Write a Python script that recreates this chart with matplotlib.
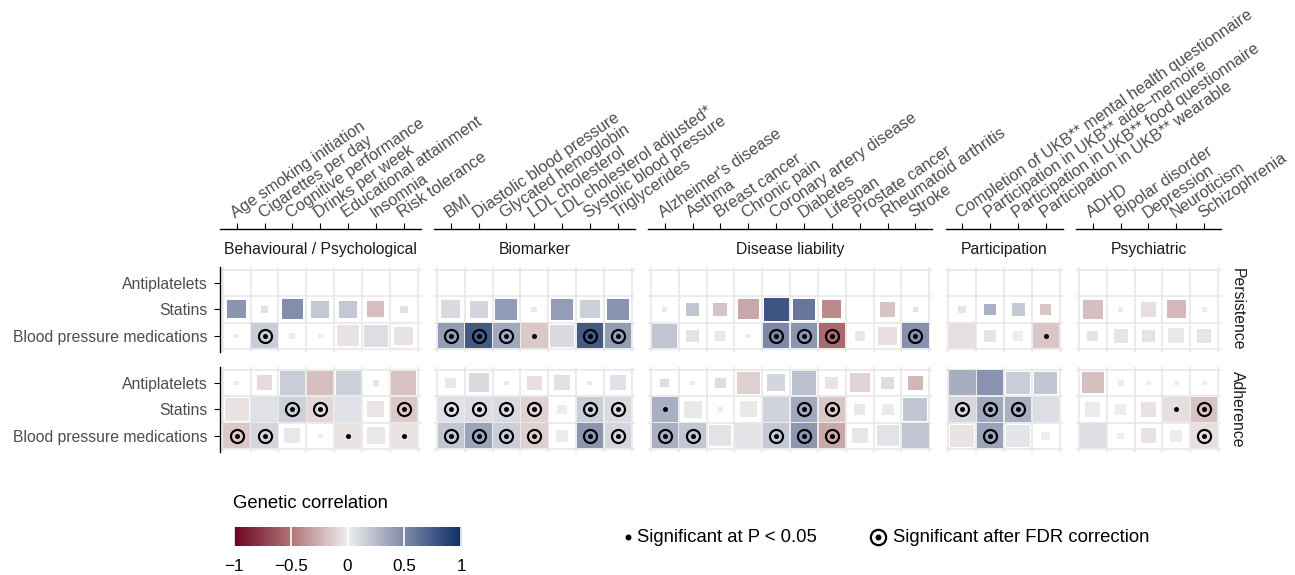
import numpy as np
import matplotlib
matplotlib.use('Agg')
import matplotlib.pyplot as plt
from matplotlib.colors import LinearSegmentedColormap, Normalize
from matplotlib.patches import Rectangle

plt.rcParams['font.family'] = ['Liberation Sans', 'DejaVu Sans']

# ---------------- data ----------------
medications = ["Antiplatelets", "Statins", "Blood pressure medications"]
measures = ["Persistence", "Adherence"]
# rows of every matrix: Persistence (Antiplatelets, Statins, BP meds), Adherence (Antiplatelets, Statins, BP meds)
# sig: 0 = none, 1 = P < 0.05, 2 = FDR significant ; w = relative square size

behav_name = "Behavioural / Psychological"
behav_traits = ["Age smoking initiation", "Cigarettes per day", "Cognitive performance",
                "Drinks per week", "Educational attainment", "Insomnia", "Risk tolerance"]
behav_rg = [[None] * 7,
            [0.44, 0.07, 0.47, 0.19, 0.19, -0.20, -0.06],
            [0.02, 0.17, 0.02, 0.01, -0.05, 0.08, -0.05],
            [0.02, -0.08, 0.17, -0.20, 0.15, -0.05, -0.18],
            [-0.05, 0.07, 0.15, -0.10, 0.07, -0.04, -0.16],
            [-0.16, 0.12, 0.03, 0.01, -0.05, 0.03, -0.05]]
behav_w = [[0] * 7,
           [0.72, 0.26, 0.79, 0.68, 0.68, 0.64, 0.30],
           [0.19, 1.00, 0.23, 0.19, 0.83, 0.90, 0.72],
           [0.19, 0.60, 0.94, 0.98, 0.94, 0.26, 0.94],
           [0.90, 1.00, 1.00, 1.00, 1.00, 0.64, 1.00],
           [1.00, 1.00, 0.60, 0.19, 1.00, 0.68, 1.00]]
behav_sig = [[0] * 7,
             [0, 0, 0, 0, 0, 0, 0],
             [0, 2, 0, 0, 0, 0, 0],
             [0, 0, 0, 0, 0, 0, 0],
             [0, 0, 2, 2, 0, 0, 2],
             [2, 2, 0, 0, 1, 0, 1]]

bio_name = "Biomarker"
bio_traits = ["BMI", "Diastolic blood pressure", "Glycated hemoglobin", "LDL cholesterol",
              "LDL cholesterol adjusted*", "Systolic blood pressure", "Triglycerides"]
bio_rg = [[None] * 7,
          [0.10, 0.12, 0.41, 0.03, 0.40, 0.15, 0.45],
          [0.40, 0.75, 0.34, -0.16, 0.10, 0.75, 0.40],
          [0.03, 0.10, 0.02, -0.07, -0.07, 0.02, 0.07],
          [0.07, 0.09, 0.10, -0.12, 0.01, 0.17, 0.10],
          [0.20, 0.37, 0.17, -0.13, -0.02, 0.44, 0.12]]
bio_w = [[0] * 7,
         [0.72, 0.68, 0.83, 0.23, 0.83, 0.72, 0.83],
         [1.00, 1.00, 1.00, 1.00, 0.90, 1.00, 1.00],
         [0.42, 0.75, 0.19, 0.57, 0.60, 0.19, 0.60],
         [1.00, 1.00, 1.00, 1.00, 0.38, 1.00, 1.00],
         [1.00, 1.00, 1.00, 1.00, 0.45, 1.00, 1.00]]
bio_sig = [[0] * 7,
           [0, 0, 0, 0, 0, 0, 0],
           [2, 2, 2, 1, 0, 2, 2],
           [0, 0, 0, 0, 0, 0, 0],
           [2, 2, 2, 2, 0, 2, 2],
           [2, 2, 2, 2, 0, 2, 2]]

dis_name = "Disease liability"
dis_traits = ["Alzheimer's disease", "Asthma", "Breast cancer", "Chronic pain",
              "Coronary artery disease", "Diabetes", "Lifespan", "Prostate cancer",
              "Rheumatoid arthritis", "Stroke"]
dis_rg = [[None] * 10,
          [0.03, 0.21, -0.18, -0.30, 0.78, 0.60, -0.41, None, -0.18, 0.07],
          [0.21, 0.05, -0.04, 0.02, 0.50, 0.43, -0.55, 0.03, -0.07, 0.46],
          [0.08, 0.02, -0.08, -0.13, 0.12, 0.22, -0.05, -0.11, 0.08, -0.23],
          [0.31, 0.03, 0.02, -0.03, 0.14, 0.34, -0.17, -0.03, 0.02, 0.20],
          [0.31, 0.20, 0.06, 0.05, 0.19, 0.43, -0.29, -0.04, 0.06, 0.21]]
dis_w = [[0] * 10,
         [0.19, 0.49, 0.53, 0.79, 0.94, 0.83, 0.72, 0.00, 0.60, 0.19],
         [0.94, 0.49, 0.38, 0.19, 1.00, 1.00, 1.00, 0.38, 0.72, 1.00],
         [0.34, 0.19, 0.42, 0.87, 0.68, 0.94, 0.49, 0.75, 0.49, 0.57],
         [1.00, 0.68, 0.19, 0.64, 1.00, 1.00, 1.00, 0.42, 0.45, 0.90],
         [1.00, 1.00, 0.83, 1.00, 1.00, 1.00, 1.00, 0.60, 0.83, 1.00]]
dis_sig = [[0] * 10,
           [0, 0, 0, 0, 0, 0, 0, 0, 0, 0],
           [0, 0, 0, 0, 2, 2, 2, 0, 0, 2],
           [0, 0, 0, 0, 0, 0, 0, 0, 0, 0],
           [1, 0, 0, 0, 0, 2, 2, 0, 0, 0],
           [2, 2, 0, 0, 2, 2, 2, 0, 0, 0]]

part_name = "Participation"
part_traits = ["Completion of UKB** mental health questionnaire",
               "Participation in UKB** aide\u2013memoire",
               "Participation in UKB** food questionnaire",
               "Participation in UKB** wearable"]
part_rg = [[None] * 4,
           [-0.05, 0.30, 0.18, -0.17],
           [-0.07, 0.05, 0.01, -0.17],
           [0.32, 0.45, 0.17, 0.20],
           [0.12, 0.35, 0.31, 0.08],
           [-0.05, 0.37, 0.05, 0.01]]
part_w = [[0] * 4,
          [0.30, 0.45, 0.49, 0.42],
          [1.00, 0.45, 0.38, 1.00],
          [1.00, 1.00, 0.90, 0.87],
          [1.00, 1.00, 1.00, 1.00],
          [0.90, 1.00, 0.90, 0.34]]
part_sig = [[0] * 4,
            [0, 0, 0, 0],
            [0, 0, 0, 1],
            [0, 0, 0, 0],
            [2, 2, 2, 0],
            [0, 2, 0, 0]]

psy_name = "Psychiatric"
psy_traits = ["ADHD", "Bipolar disorder", "Depression", "Neuroticism", "Schizophrenia"]
psy_rg = [[None] * 5,
          [-0.20, 0.02, -0.07, -0.22, 0.02],
          [0.04, -0.04, -0.05, -0.03, -0.04],
          [-0.20, 0.02, 0.01, 0.01, 0.01],
          [0.02, 0.00, -0.05, -0.07, -0.18],
          [0.08, 0.00, -0.05, -0.01, -0.07]]
psy_w = [[0] * 5,
         [0.75, 0.19, 0.57, 0.72, 0.19],
         [0.42, 0.53, 0.49, 0.60, 0.53],
         [0.83, 0.23, 0.19, 0.19, 0.19],
         [0.57, 0.42, 0.60, 1.00, 1.00],
         [1.00, 0.26, 0.60, 0.45, 1.00]]
psy_sig = [[0] * 5,
           [0, 0, 0, 0, 0],
           [0, 0, 0, 0, 0],
           [0, 0, 0, 0, 0],
           [0, 0, 0, 1, 2],
           [0, 0, 0, 0, 2]]

groups = [(behav_name, behav_traits, behav_rg, behav_w, behav_sig),
          (bio_name, bio_traits, bio_rg, bio_w, bio_sig),
          (dis_name, dis_traits, dis_rg, dis_w, dis_sig),
          (part_name, part_traits, part_rg, part_w, part_sig),
          (psy_name, psy_traits, psy_rg, psy_w, psy_sig)]

cbar_ticks = [-1, -0.5, 0, 0.5, 1]
cbar_labels = ["\u22121", "\u22120.5", "0", "0.5", "1"]

# ---------------- figure ----------------
W, H = 1295, 575
fig = plt.figure(figsize=(W / 100, H / 100), dpi=100)


def fx(px):
    return px / W


def fy(py):
    return 1 - py / H


cmap = LinearSegmentedColormap.from_list(
    'rg', [(0.0, '#6b0522'), (0.25, '#b07677'), (0.5, '#efefef'),
           (0.75, '#7e89a8'), (1.0, '#0b2d66')])
norm = Normalize(-1, 1)

col_w = 27.85
exp = 0.1
left0 = 220
gap = 13.5
row_h = 26.5
panel_tops = [267, 367]
grid_c = '#e6e6e6'
lab_c = '#4d4d4d'
fs = 11.3

x0 = left0
for gi, (gname, traits, rg, wts, sig) in enumerate(groups):
    n = len(traits)
    pw = (n + 2 * exp) * col_w
    ph = (3 + 2 * exp) * row_h
    for mi in range(2):
        top = panel_tops[mi]
        ax = fig.add_axes([fx(x0), fy(top + ph), pw / W, ph / H])
        ax.set_xlim(0.5 - exp, n + 0.5 + exp)
        ax.set_ylim(3.5 + exp, 0.5 - exp)
        for b in np.arange(0.5, n + 1, 1):
            ax.axvline(b, color=grid_c, lw=1.1, zorder=0)
        for b in np.arange(0.5, 4, 1):
            ax.axhline(b, color=grid_c, lw=1.1, zorder=0)
        for ri in range(3):
            k = mi * 3 + ri
            for j in range(n):
                v = rg[k][j]
                if v is None:
                    continue
                s = wts[k][j] * 0.95
                if s > 0:
                    ax.add_patch(Rectangle((j + 1 - s / 2, ri + 1 - s / 2), s, s,
                                           facecolor=cmap(norm(v)), edgecolor='none', zorder=2))
                if sig[k][j] == 2:
                    ax.plot(j + 1, ri + 1, marker='o', ms=9.4, mfc='none', mec='black',
                            mew=1.55, zorder=4)
                    ax.plot(j + 1, ri + 1, marker='o', ms=3.6, mfc='black', mec='black',
                            mew=0, zorder=4)
                elif sig[k][j] == 1:
                    ax.plot(j + 1, ri + 1, marker='o', ms=3.6, mfc='black', mec='black',
                            mew=0, zorder=4)
        for sp in ['right', 'bottom', 'left', 'top']:
            ax.spines[sp].set_visible(False)
        if gi == 0:
            ax.spines['left'].set_visible(True)
            ax.spines['left'].set_linewidth(1.0)
            ax.set_yticks([1, 2, 3])
            ax.set_yticklabels(medications)
            ax.tick_params(axis='y', length=4.5, width=0.8, color='black',
                           labelcolor=lab_c, labelsize=fs, pad=4.6)
        else:
            ax.set_yticks([])
        if mi == 0:
            ax.spines['top'].set_visible(True)
            ax.spines['top'].set_linewidth(1.0)
            ax.spines['top'].set_position(('outward', 27.4))
            ax.xaxis.tick_top()
            ax.set_xticks(np.arange(1, n + 1))
            ax.set_xticklabels(traits, rotation=34.5, ha='left', va='bottom',
                               rotation_mode='anchor')
            ax.tick_params(axis='x', length=4.5, width=0.8, color='black',
                           labelcolor=lab_c, labelsize=11.7, pad=1.5)
            fig.text(fx(x0 + pw / 2), fy(249), gname, ha='center', va='center',
                     fontsize=fs, color='#1a1a1a')
        else:
            ax.set_xticks([])
        if gi == len(groups) - 1:
            fig.text(fx(1237), fy(top + ph / 2), measures[mi], rotation=270,
                     ha='center', va='center', fontsize=fs, color='#1a1a1a')
    x0 += pw + gap

# ---------------- colour bar ----------------
fig.text(fx(233), fy(503), "Genetic correlation", ha='left', va='center',
         fontsize=13.3, color='black')
cax = fig.add_axes([fx(233), fy(546), (462 - 233) / W, 19 / H])
grad = np.linspace(-1, 1, 512)[None, :]
cax.imshow(grad, aspect='auto', cmap=cmap, norm=norm, extent=[-1, 1, 0, 1])
for t in cbar_ticks:
    cax.axvline(t, color='white', lw=1.2)
cax.set_xlim(-1.005, 1.005)
cax.set_yticks([])
cax.set_xticks(cbar_ticks)
cax.set_xticklabels(cbar_labels)
cax.tick_params(axis='x', length=0, pad=9.5, labelsize=12.3, labelcolor='black')
for sp in cax.spines.values():
    sp.set_visible(False)

# ---------------- significance legend ----------------
ov = fig.add_axes([0, 0, 1, 1])
ov.set_xlim(0, W)
ov.set_ylim(H, 0)
ov.axis('off')
ov.plot(628, 537, marker='o', ms=4.3, mfc='black', mec='black', mew=0)
ov.text(637, 537, "Significant at P < 0.05", ha='left', va='center', fontsize=13.3,
        color='black')
ov.plot(878, 537, marker='o', ms=11, mfc='none', mec='black', mew=1.6)
ov.plot(878, 537, marker='o', ms=4.3, mfc='black', mec='black', mew=0)
ov.text(893, 537, "Significant after FDR correction", ha='left', va='center',
        fontsize=13.3, color='black')

fig.savefig('out.png', dpi=100)
